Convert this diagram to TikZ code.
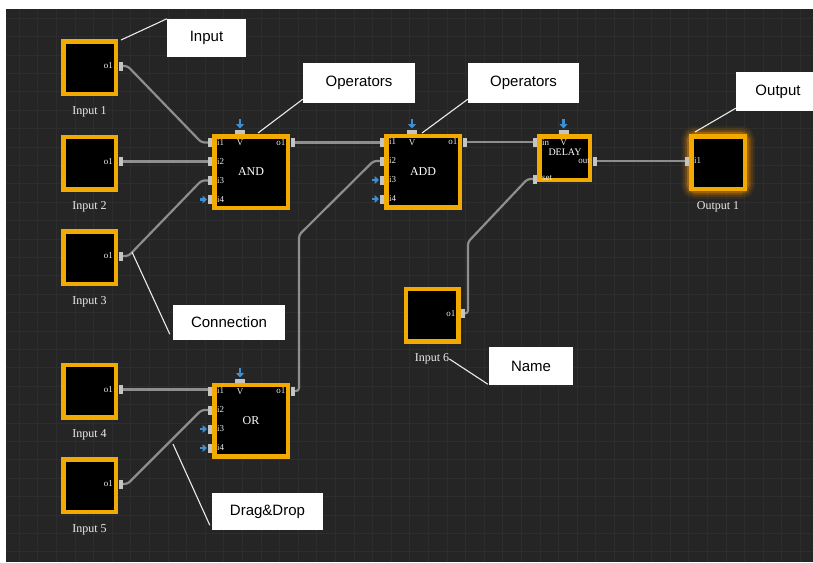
\documentclass[tikz,border=0pt]{standalone}
\usepackage{fontspec}
\setmainfont{Liberation Serif}
\newfontfamily\calloutfont{Liberation Sans}
\usetikzlibrary{arrows.meta,positioning,calc}
\definecolor{canvas}{HTML}{252525}
\definecolor{gridgray}{HTML}{2D2D2D}
\definecolor{gateorange}{HTML}{F2A900}
\definecolor{wiregray}{HTML}{8E8E8E}
\definecolor{tabgray}{HTML}{C4C4C4}
\definecolor{hintblue}{HTML}{3D8FD1}

\begin{document}
\begin{tikzpicture}[x=1pt,y=-1pt,
  every node/.style={inner sep=0pt},
  srcbox/.style={draw=gateorange,line width=4.5pt,fill=black,minimum width=52.5pt,minimum height=52.5pt},
  gatebox/.style={draw=gateorange,line width=4.5pt,fill=black,minimum width=73.5pt,minimum height=71.5pt,
    text=white,font=\fontsize{12}{12}\selectfont},
  boxname/.style={text=white!92!black,font=\fontsize{12}{12}\selectfont},
  portname/.style={text=white!92!black,font=\fontsize{9}{9}\selectfont},
  porttab/.style={fill=tabgray,minimum width=4pt,minimum height=9pt},
  toptab/.style={fill=tabgray,minimum width=10pt,minimum height=4pt},
  wire/.style={draw=wiregray,line width=2.2pt,rounded corners=3pt},
  hint/.style={draw=hintblue,line width=2.8pt,-{Triangle[width=8pt,length=4.5pt]}},
  callout/.style={fill=white,text=black,font=\calloutfont\fontsize{15}{15}\selectfont},
  leader/.style={draw=white!92!black,line width=1.1pt}]

% canvas and grid
\useasboundingbox (0,0) rectangle (813,562);
\fill[white] (0,0) rectangle (813,562);
\fill[canvas] (6,9) rectangle (813,562);
\foreach \gx in {0,...,42} \draw[gridgray,line width=0.6pt] ({19+\gx*18.6},9) -- ({19+\gx*18.6},562);
\foreach \gy in {0,...,29} \draw[gridgray,line width=0.6pt] (6,{18+\gy*18.4}) -- (813,{18+\gy*18.4});

% input blocks
\node[srcbox] (in1) at (89.5,67.5) {};
\node[srcbox] (in2) at (89.5,163) {};
\node[srcbox] (in3) at (89.5,257.5) {};
\node[srcbox] (in4) at (89.5,391) {};
\node[srcbox] (in5) at (89.5,485.5) {};
\node[srcbox] (in6) at (432,315) {};
\node[boxname,below=10pt of in1] (in1-name) {Input 1};
\node[boxname,below=10pt of in2] (in2-name) {Input 2};
\node[boxname,below=10pt of in3] (in3-name) {Input 3};
\node[boxname,below=10pt of in4] (in4-name) {Input 4};
\node[boxname,below=10pt of in5] (in5-name) {Input 5};
\node[boxname,below=10pt of in6] (in6-name) {Input 6};
\foreach \b/\yy in {1/66,2/161.5,3/256,4/389.5,5/484}
  \node[portname,anchor=east] at (113,\yy) {o1};
\node[portname,anchor=east] at (455.5,313.5) {o1};

% output block with glow
\coordinate (out1-c) at (718,162.5);
\foreach \gw/\go in {20/0.08,16/0.12,12/0.2,8.5/0.35}
  \draw[gateorange!85!red,line width=\gw pt,opacity=\go,rounded corners=4pt] ($(out1-c)+(-26.75,-26.25)$) rectangle ($(out1-c)+(26.75,26.25)$);
\node[srcbox,minimum width=53.5pt] (out1) at (out1-c) {};
\node[boxname,below=10pt of out1] (out1-name) {Output 1};
\node[portname,anchor=west] at (694,160.5) {i1};

% operator blocks
\node[gatebox] (and) at (251,172) {AND};
\node[gatebox] (add) at (423,171.5) {ADD};
\node[gatebox] (or) at (251,420.5) {OR};
\node[gatebox,minimum width=50.5pt,minimum height=43.5pt] (dly) at (564.5,158) {};
\node[text=white,font=\fontsize{10}{10}\selectfont] (dly-name) at (565,152.5) {DELAY};
\foreach \k/\yy in {1/142.5,2/161.5,3/180.5,4/199.5} {
  \node[portname,anchor=west] at (217,\yy) {i\k};
  \node[portname,anchor=west] at (389,{\yy-0.5}) {i\k};
  \node[portname,anchor=west] at (217,{\yy+248.5}) {i\k};
}
\node[portname,anchor=east] at (285.5,142.5) {o1};
\node[portname,anchor=east] at (457.5,142) {o1};
\node[portname,anchor=east] at (285.5,391) {o1};
\node[portname,anchor=west] at (542,142.5) {in};
\node[portname,anchor=west] at (542,178.5) {set};
\node[portname,anchor=east] at (590,161) {out};
\node[portname] at (240,143) {V};
\node[portname] at (412,142.5) {V};
\node[portname] at (240,391.5) {V};
\node[portname] at (563.5,143) {V};

% port coordinates
\foreach \b/\yy in {1/66,2/161.5,3/256,4/389.5,5/484}
  \coordinate (in\b-o1) at (120.5,\yy);
\coordinate (in6-o1) at (462.5,313.5);
\foreach \k/\yy in {1/142.5,2/161.5,3/180.5,4/199.5} {
  \coordinate (and-i\k) at (209.5,\yy);
  \coordinate (add-i\k) at (381.5,{\yy-0.5});
  \coordinate (or-i\k) at (209.5,{\yy+248.5});
}
\coordinate (and-o1) at (292.5,142.5);
\coordinate (add-o1) at (464.5,142);
\coordinate (or-o1) at (292.5,391);
\coordinate (dly-in) at (534.5,142.5);
\coordinate (dly-set) at (534.5,179);
\coordinate (dly-out) at (594.5,161);
\coordinate (out1-i1) at (686.5,161);
\coordinate (or-bend) at (299,235);
\coordinate (in6-bend) at (468,242);

% connections
\draw[wire] (in1-o1) -- ++(7,0) -- ($(and-i1)+(-8,0)$) -- (and-i1);
\draw[wire] (in2-o1) -- (in2-o1 -| and-i2);
\draw[wire] (in3-o1) -- ++(8,0) -- ($(and-i3)+(-8,0)$) -- (and-i3);
\draw[wire] (in4-o1) -- (in4-o1 -| or-i1);
\draw[wire] (in5-o1) -- ++(7,0) -- ($(or-i2)+(-8,0)$) -- (or-i2);
\draw[wire] (and-o1) -- (and-o1 -| add-i1);
\draw[wire] (or-o1) -- (or-o1 -| or-bend) -- (or-bend) -- ($(add-i2)+(-8,0)$) -- (add-i2);
\draw[wire] (add-o1) -- (add-o1 -| dly-in);
\draw[wire] (in6-o1) -- (in6-o1 -| in6-bend) -- (in6-bend) -- ($(dly-set)+(-7,0)$) -- (dly-set);
\draw[wire] (dly-out) -- (dly-out -| out1-i1);

% port tabs
\foreach \p in {in1-o1,in2-o1,in3-o1,in4-o1,in5-o1,in6-o1,and-i1,and-i2,and-i3,and-i4,
  add-i1,add-i2,add-i3,add-i4,or-i1,or-i2,or-i3,or-i4,and-o1,add-o1,or-o1,dly-in,dly-set,dly-out,out1-i1}
  \node[porttab] at (\p) {};
\foreach \tx/\ty in {240/131.5,412/131.5,240/380.5,563.5/131.5}
  \node[toptab] at (\tx,\ty) {};

% unused inputs
\foreach \tx/\ty in {240/131.5,412/131.5,240/380.5,563.5/131.5}
  \draw[hint] (\tx,{\ty-13}) -- (\tx,{\ty-3});
\foreach \p in {and-i4,add-i3,add-i4,or-i3,or-i4}
  \draw[hint] ($(\p)+(-10,0)$) -- ($(\p)+(-2.5,0)$);

% callouts
\node[callout,minimum width=79pt,minimum height=38pt] (c-input) at (206.5,38) {Input};
\node[callout,minimum width=112pt,minimum height=40pt] (c-ops1) at (359,83) {Operators};
\node[callout,minimum width=111pt,minimum height=40pt] (c-ops2) at (523.5,83) {Operators};
\node[callout,minimum width=84pt,minimum height=39pt] (c-output) at (778,91.5) {Output};
\node[callout,minimum width=112pt,minimum height=35pt] (c-conn) at (229,322.5) {Connection};
\node[callout,minimum width=84pt,minimum height=38pt] (c-name) at (531,366) {Name};
\node[callout,minimum width=111pt,minimum height=37pt] (c-drag) at (267.5,511.5) {Drag\&Drop};
\draw[leader] (c-input.north west) -- (121,40);
\draw[leader] ($(c-ops1.south west)+(0,-4)$) -- (258,133);
\draw[leader] ($(c-ops2.south west)+(0,-4)$) -- (422,133);
\draw[leader] ($(c-output.south west)+(0,-3)$) -- (695,132);
\draw[leader] ($(c-conn.south west)+(-3,-6)$) -- (132,252);
\draw[leader] (in6-name.east) -- ($(c-name.south west)+(-1,-1)$);
\draw[leader] (173,444) -- ($(c-drag.south west)+(-2,-5)$);
\end{tikzpicture}
\end{document}
